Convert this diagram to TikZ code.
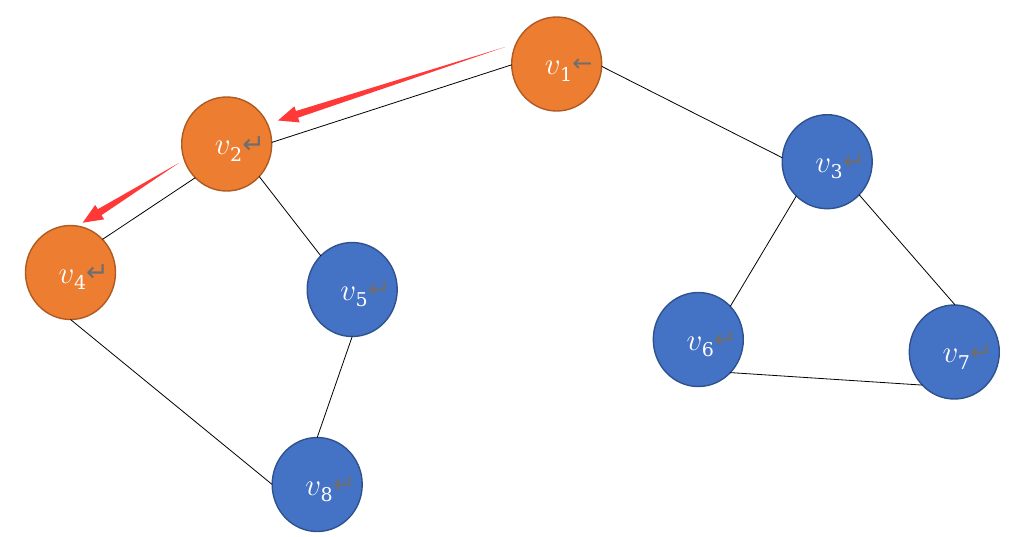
\documentclass[tikz,border=0pt]{standalone}
\usepackage{fontspec}
\usetikzlibrary{shapes.geometric,calc}
\newfontfamily\symfont{DejaVu Sans}
\newfontfamily\labfont{DejaVu Serif}
\definecolor{orfill}{HTML}{ED7D31}
\definecolor{ordraw}{HTML}{AE5A21}
\definecolor{blfill}{HTML}{4472C4}
\definecolor{bldraw}{HTML}{2F528F}
\definecolor{arrred}{HTML}{FF3838}
\definecolor{markgray}{HTML}{6E6E6E}
\newcommand{\pmark}[1]{{\color{markgray}\fontsize{27}{29}\symfont\raisebox{1.5pt}{#1}}}
\newcommand{\larr}{{\color{markgray}\fontsize{24}{26}\symfont\raisebox{3pt}{←}}}
\newcommand{\vlab}[1]{\scalebox{1.25}{\fontsize{24.88}{28}\selectfont$v$}\kern-0.5pt\raisebox{-6.5pt}{\labfont\fontsize{19}{21}\selectfont #1}}
\tikzset{
  vert/.style={ellipse, minimum width=90pt, minimum height=94pt, inner sep=0pt, outer sep=0pt, line width=1.4pt},
  orv/.style={vert, fill=orfill, draw=ordraw},
  blv/.style={vert, fill=blfill, draw=bldraw},
  lbl/.style={anchor=base west, inner sep=0pt, text=white},
  edge/.style={draw=black, line width=0.8pt},
  redarr/.style={fill=arrred}
}
\begin{document}
\begin{tikzpicture}[x=1pt,y=-1pt]
\useasboundingbox (0,0) rectangle (1034,536);
% vertices
\node[orv] (v1) at (556.7,64) {};
\node[orv] (v2) at (226.7,144) {};
\node[blv] (v3) at (827.2,161.7) {};
\node[orv] (v4) at (70.5,272.5) {};
\node[blv] (v5) at (352.2,289.5) {};
\node[blv] (v6) at (698.3,339.5) {};
\node[blv] (v7) at (954.3,352) {};
\node[blv] (v8) at (317.2,484.5) {};
% labels
\node[lbl] (t1) at ($(v1.center)+(-12,10.5)$) {\vlab{1}\larr};
\node[lbl] (t2) at ($(v2.center)+(-12,10.5)$) {\vlab{2}\pmark{↵}};
\node[lbl] (t3) at ($(v3.center)+(-12,10.5)$) {\vlab{3}\pmark{↵}};
\node[lbl] (t4) at ($(v4.center)+(-12,10.5)$) {\vlab{4}\pmark{↵}};
\node[lbl] (t5) at ($(v5.center)+(-12,10.5)$) {\vlab{5}\pmark{↵}};
\node[lbl] (t6) at ($(v6.center)+(-12,10.5)$) {\vlab{6}\pmark{↵}};
\node[lbl] (t7) at ($(v7.center)+(-12,10.5)$) {\vlab{7}\pmark{↵}};
\node[lbl] (t8) at ($(v8.center)+(-12,10.5)$) {\vlab{8}\pmark{↵}};
% edges
\draw[edge] (v1.181) -- (v2.2);
\draw[edge] (v1.357.5) -- (v3.175);
\draw[edge] (v2.227) -- (v4.46);
\draw[edge] (v2.315) -- (v5.133);
\draw[edge] (v4.270) -- (v8.180);
\draw[edge] (v5.270) -- (v8.90);
\draw[edge] (v3.228) -- (v6.46);
\draw[edge] (v3.314) -- (v7.89);
\draw[edge] (v6.314) -- (v7.226);
% red arrows
\coordinate (r1t) at (505,47);
\coordinate (r1h) at (278,120.5);
\coordinate (r1b) at ($(r1h)!20pt!(r1t)$);
\fill[redarr] (r1t) -- ($(r1b)!3.5pt!90:(r1h)$) -- ($(r1b)!8.5pt!90:(r1h)$) -- (r1h)
  -- ($(r1b)!8.5pt!-90:(r1h)$) -- ($(r1b)!3.5pt!-90:(r1h)$) -- cycle;
\coordinate (r2t) at (179.3,162.7);
\coordinate (r2h) at (82.7,222.7);
\coordinate (r2b) at ($(r2h)!20pt!(r2t)$);
\fill[redarr] (r2t) -- ($(r2b)!3.5pt!90:(r2h)$) -- ($(r2b)!8.5pt!90:(r2h)$) -- (r2h)
  -- ($(r2b)!8.5pt!-90:(r2h)$) -- ($(r2b)!3.5pt!-90:(r2h)$) -- cycle;
\end{tikzpicture}
\end{document}
